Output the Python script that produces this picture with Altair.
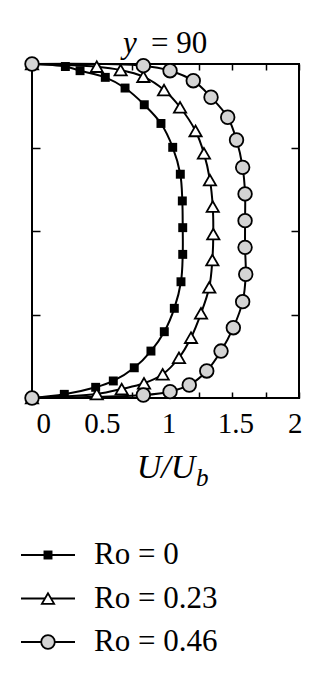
import altair as alt
import pandas as pd

series = ["Ro = 0", "Ro = 0.23", "Ro = 0.46"]

y_ro0 = [0, 0.022, 0.064, 0.102, 0.181, 0.281, 0.397, 0.537, 0.696, 0.860, 1.020,
         1.180, 1.340, 1.501, 1.644, 1.756, 1.856, 1.920, 1.960, 1.985, 2.0]
u_ro0 = [0, 0.242, 0.477, 0.609, 0.766, 0.891, 0.991, 1.066, 1.116, 1.129, 1.129,
         1.126, 1.111, 1.054, 0.966, 0.841, 0.697, 0.549, 0.360, 0.250, 0]

y_ro023 = [0, 0.024, 0.054, 0.088, 0.142, 0.241, 0.361, 0.507, 0.663, 0.826, 0.982,
           1.146, 1.305, 1.465, 1.599, 1.741, 1.844, 1.924, 1.964, 1.984, 2.0]
u_ro023 = [0, 0.485, 0.672, 0.839, 0.979, 1.101, 1.191, 1.266, 1.328, 1.351, 1.358,
           1.354, 1.333, 1.288, 1.225, 1.109, 0.989, 0.834, 0.664, 0.485, 0]

y_ro046 = [0, 0.018, 0.038, 0.078, 0.162, 0.281, 0.421, 0.577, 0.741, 0.902, 1.062,
           1.222, 1.381, 1.545, 1.681, 1.801, 1.900, 1.960, 1.990, 2.0]
u_ro046 = [0, 0.834, 1.034, 1.178, 1.309, 1.416, 1.508, 1.578, 1.601, 1.596, 1.596,
           1.596, 1.578, 1.532, 1.466, 1.341, 1.208, 1.034, 0.834, 0]

x_ticks = [0, 0.25, 0.5, 0.75, 1, 1.25, 1.5, 1.75, 2]
y_ticks = [0.5, 1, 1.5]

rows = []
for name, us, ys in zip(series, [u_ro0, u_ro023, u_ro046], [y_ro0, y_ro023, y_ro046]):
    for u, y in zip(us, ys):
        rows.append({"series": name, "u": u, "y": y})
df = pd.DataFrame(rows)

shapes = ["square", "triangle-up", "circle"]
fills = ["black", "white", "#d4d4d4"]
sizes = [80, 150, 185]
strokes = [0, 1.8, 1.8]

FONT = "Liberation Serif"
W, H = 267, 334

xs = alt.Scale(domain=[0, 2], nice=False)
ys = alt.Scale(domain=[0, 2], nice=False)

bottom_axis = alt.Axis(
    orient="bottom", values=x_ticks, format="~g",
    labelExpr="datum.value % 0.5 == 0 ? datum.label : ''",
    offset=-6, tickSize=6, tickWidth=1.5, tickColor="black", domain=False, grid=False,
    labelFont=FONT, labelFontSize=29, labelColor="black", labelPadding=11,
    labelOffset={"condition": {"test": "datum.value == 0", "value": 4}, "value": 3},
    title="U/U", titleFont=FONT, titleFontStyle="italic", titleFontWeight="normal",
    titleFontSize=34, titleColor="black", titlePadding=12,
)
top_axis = alt.Axis(orient="top", values=x_ticks, offset=-6, tickSize=6, tickWidth=1.5,
                    tickColor="black", domain=False, grid=False, labels=False, title=None)
left_axis = alt.Axis(orient="left", values=y_ticks, offset=-8, tickSize=8, tickWidth=1.5,
                     tickColor="black", domain=False, grid=False, labels=False, title=None)
right_axis = alt.Axis(orient="right", values=y_ticks, offset=-8, tickSize=8, tickWidth=1.5,
                      tickColor="black", domain=False, grid=False, labels=False, title=None)

base = alt.Chart(df)

lines = base.mark_line(color="black", strokeWidth=2, interpolate="catmull-rom").encode(
    x=alt.X("u:Q", scale=xs, axis=bottom_axis),
    y=alt.Y("y:Q", scale=ys, axis=left_axis),
    detail="series:N",
    order="y:Q",
)

layers = [lines]
for i, (name, shp, fl, sz, sw) in enumerate(zip(series, shapes, fills, sizes, strokes)):
    xa = top_axis if i == 0 else None
    ya = right_axis if i == 0 else None
    pts = base.transform_filter(alt.datum.series == name).mark_point(
        shape=shp, filled=True, fill=fl, stroke="black",
        strokeWidth=sw, size=sz, opacity=1,
    ).encode(
        x=alt.X("u:Q", scale=xs, axis=xa),
        y=alt.Y("y:Q", scale=ys, axis=ya),
    )
    layers.append(pts)

# legend
leg_df = pd.DataFrame({"series": series, "row": list(range(len(series)))})
leg_y = alt.Y("row:Q", scale=alt.Scale(domain=[0, 2], range=[491, 578]), axis=None)
leg_base = alt.Chart(leg_df)
leg_lines = leg_base.mark_rule(color="black", strokeWidth=2).encode(
    x=alt.value(-11), x2=alt.value(43), y=leg_y)
layers.append(leg_lines)
for i, (name, shp, fl, sz, sw) in enumerate(zip(series, shapes, fills, sizes, strokes)):
    layers.append(
        leg_base.transform_filter(alt.datum.series == name).mark_point(
            shape=shp, filled=True, fill=fl, stroke="black",
            strokeWidth=sw, size=sz, opacity=1,
        ).encode(x=alt.value(16), y=leg_y)
    )
layers.append(
    leg_base.mark_text(font=FONT, fontSize=31, align="left", baseline="middle", color="black").encode(
        x=alt.value(62), y=leg_y, text="series:N")
)

# title "y = 90" and subscript of axis title
title_df = pd.DataFrame({"t": ["y", "= 90", "b"]})
layers.append(alt.Chart(title_df).transform_filter(alt.datum.t == "y").mark_text(
    font=FONT, fontSize=31, fontStyle="italic", align="left", baseline="alphabetic", color="black"
).encode(x=alt.value(91), y=alt.value(-11), text="t:N"))
layers.append(alt.Chart(title_df).transform_filter(alt.datum.t == "= 90").mark_text(
    font=FONT, fontSize=31, align="left", baseline="alphabetic", color="black"
).encode(x=alt.value(119), y=alt.value(-11), text="t:N"))
layers.append(alt.Chart(title_df).transform_filter(alt.datum.t == "b").mark_text(
    font=FONT, fontSize=25, fontStyle="italic", align="left", baseline="alphabetic", color="black"
).encode(x=alt.value(164), y=alt.value(334 + 88), text="t:N"))

chart = alt.layer(*layers).resolve_scale(y="independent").resolve_axis(
    x="independent", y="independent"
).properties(
    width=W, height=H,
    autosize=alt.AutoSizeParams(type="none"),
    padding={"left": 24, "top": 56, "right": 22, "bottom": 273},
    background="white",
).configure_view(stroke="black", strokeWidth=2)

chart.save("out.html", embed_options={"renderer": "svg", "actions": False})
